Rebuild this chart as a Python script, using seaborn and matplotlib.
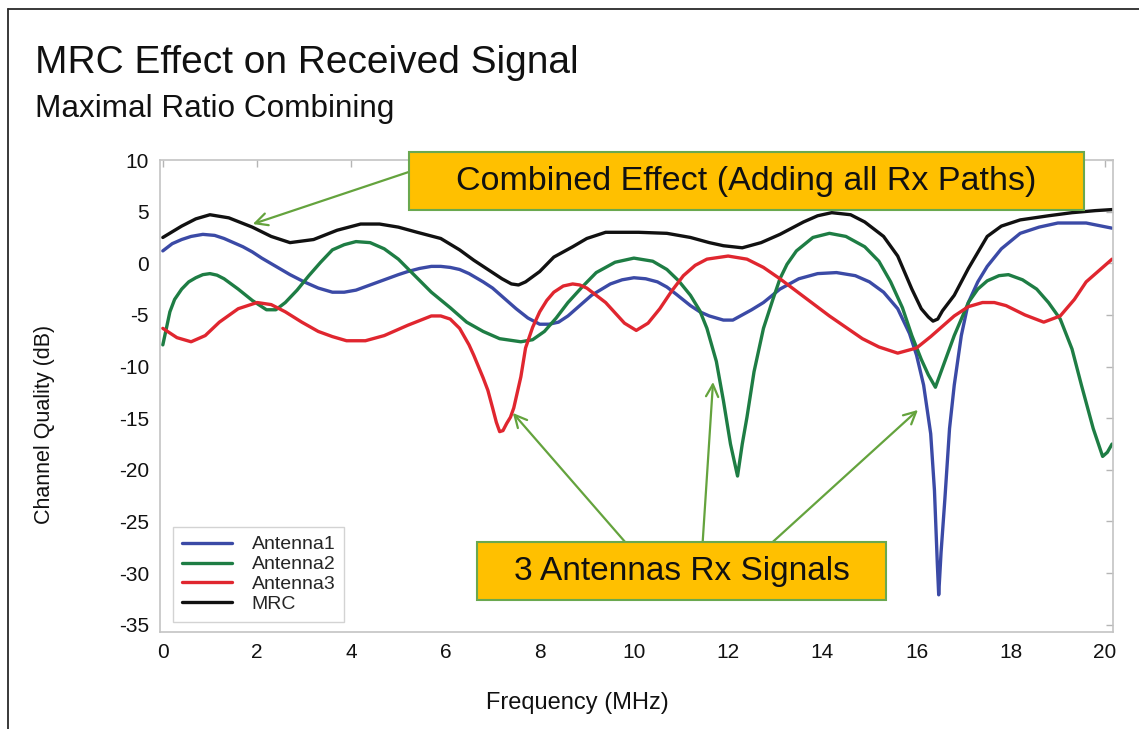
# MRC effect on received signal - channel quality vs frequency
import pandas as pd
import matplotlib.pyplot as plt
import seaborn as sns
from matplotlib.patches import Rectangle
from matplotlib.lines import Line2D

# -------------------
# DATA
# -------------------
series_names = ['Antenna1', 'Antenna2', 'Antenna3', 'MRC']
series_colors = ['#3b4aa6', '#1e7d44', '#e0262f', '#111111']

ant1_freq = [0, 0.2, 0.4, 0.6, 0.85, 1.1, 1.3, 1.5, 1.7, 1.9, 2.1, 2.4, 2.7, 3.0, 3.3, 3.6,
             3.85, 4.1, 4.4, 4.7, 5.0, 5.2, 5.45, 5.7, 5.9, 6.1, 6.3, 6.5, 6.8, 7.0, 7.2,
             7.5, 7.75, 8.0, 8.2, 8.4, 8.6, 8.8, 9.1, 9.5, 9.75, 10.0, 10.25, 10.5, 10.7,
             10.9, 11.2, 11.4, 11.6, 11.9, 12.1, 12.3, 12.5, 12.75, 13.1, 13.5, 13.9, 14.3,
             14.7, 15.0, 15.3, 15.6, 15.85, 16.0, 16.15, 16.3, 16.38, 16.44, 16.47, 16.52,
             16.6, 16.7, 16.8, 16.95, 17.1, 17.3, 17.5, 17.8, 18.2, 18.6, 19.0, 19.6, 20.15]
ant1_db = [1.2, 1.9, 2.3, 2.6, 2.8, 2.7, 2.4, 2.0, 1.6, 1.1, 0.5, -0.3, -1.1, -1.8, -2.4, -2.8,
           -2.8, -2.6, -2.1, -1.6, -1.1, -0.8, -0.5, -0.3, -0.3, -0.4, -0.6, -1.0, -1.8, -2.4, -3.2,
           -4.4, -5.3, -5.9, -5.9, -5.7, -5.1, -4.3, -3.1, -2.0, -1.6, -1.4, -1.5, -1.8, -2.3,
           -3.0, -4.1, -4.7, -5.1, -5.5, -5.5, -5.0, -4.5, -3.8, -2.5, -1.5, -1.0, -0.9,
           -1.2, -1.8, -2.8, -4.4, -6.8, -8.9, -11.8, -16.5, -22.0, -29.0, -32.1, -28.0,
           -22.9, -16.0, -11.8, -7.0, -3.8, -1.8, -0.3, 1.4, 2.9, 3.5, 3.9, 3.9, 3.4]

ant2_freq = [0, 0.08, 0.15, 0.25, 0.4, 0.55, 0.7, 0.85, 1.0, 1.15, 1.3, 1.6, 1.9, 2.2, 2.4,
             2.6, 2.85, 3.1, 3.35, 3.6, 3.85, 4.1, 4.4, 4.7, 5.0, 5.35, 5.7, 6.1, 6.45, 6.8,
             7.15, 7.6, 7.85, 8.1, 8.35, 8.6, 8.9, 9.2, 9.6, 10.0, 10.4, 10.7, 10.95, 11.2,
             11.4, 11.55, 11.75, 11.9, 12.05, 12.2, 12.3, 12.4, 12.55, 12.75, 12.95, 13.1,
             13.25, 13.45, 13.8, 14.15, 14.5, 14.9, 15.2, 15.45, 15.7, 15.9, 16.1, 16.25,
             16.4, 16.6, 16.8, 17.1, 17.3, 17.5, 17.75, 17.95, 18.25, 18.55, 18.8, 19.05,
             19.3, 19.5, 19.75, 19.95, 20.05, 20.15]
ant2_db = [-7.9, -6.2, -4.7, -3.5, -2.5, -1.8, -1.4, -1.1, -1.0, -1.15, -1.5, -2.5, -3.6, -4.5, -4.5,
           -3.8, -2.6, -1.2, 0.1, 1.3, 1.8, 2.1, 2.0, 1.4, 0.4, -1.2, -2.8, -4.3, -5.7, -6.6,
           -7.3, -7.6, -7.4, -6.6, -5.3, -3.8, -2.3, -0.9, 0.1, 0.5, 0.2, -0.6, -1.7, -3.1,
           -4.6, -6.3, -9.5, -13.3, -17.5, -20.6, -17.5, -14.9, -10.5, -6.3, -3.5, -1.5,
           -0.1, 1.2, 2.5, 2.9, 2.6, 1.6, 0.2, -1.8, -4.3, -7.0, -9.3, -10.8,
           -12.0, -9.5, -7.0, -3.8, -2.5, -1.7, -1.2, -1.1, -1.6, -2.5, -3.8, -5.4,
           -8.3, -11.8, -16.0, -18.7, -18.3, -17.5]

ant3_freq = [0, 0.3, 0.6, 0.9, 1.2, 1.6, 2.0, 2.3, 2.6, 2.95, 3.3, 3.6, 3.9, 4.3, 4.7, 5.2,
             5.7, 5.9, 6.1, 6.3, 6.5, 6.6, 6.7, 6.8, 6.9, 7.0, 7.08, 7.15, 7.22, 7.3, 7.38,
             7.45, 7.52, 7.6, 7.7, 7.85, 8.0, 8.15, 8.3, 8.5, 8.7, 8.85, 9.0, 9.4, 9.8,
             10.05, 10.3, 10.55, 10.8, 11.05, 11.3, 11.55, 12.0, 12.4, 12.75, 13.1, 13.45,
             14.15, 14.85, 15.2, 15.6, 16.0, 16.3, 16.8, 17.1, 17.4, 17.65, 17.9, 18.3, 18.7,
             19.05, 19.35, 19.6, 19.9, 20.15]
ant3_db = [-6.3, -7.2, -7.6, -7.0, -5.7, -4.4, -3.8, -4.0, -4.7, -5.7, -6.6, -7.1, -7.5, -7.5, -7.0, -6.0,
           -5.1, -5.1, -5.4, -6.3, -7.9, -8.9, -10.0, -11.1, -12.3, -14.0, -15.4, -16.3, -16.2, -15.5, -14.9,
           -14.0, -12.6, -11.0, -8.2, -6.2, -4.7, -3.6, -2.8, -2.2, -2.0, -2.1, -2.4, -3.8, -5.8,
           -6.5, -5.8, -4.4, -2.7, -1.2, -0.2, 0.4, 0.7, 0.4, -0.4, -1.5, -2.7,
           -5.1, -7.3, -8.1, -8.7, -8.2, -7.1, -5.1, -4.2, -3.8, -3.8, -4.1, -5.0, -5.7,
           -5.1, -3.5, -1.8, -0.6, 0.4]

mrc_freq = [0, 0.4, 0.7, 1.0, 1.4, 1.9, 2.3, 2.7, 3.2, 3.7, 4.2, 4.6, 5.0, 5.4, 5.9, 6.3, 6.6,
            6.9, 7.2, 7.4, 7.55, 7.7, 8.0, 8.3, 8.7, 9.0, 9.4, 10.1, 10.7, 11.2, 11.6, 11.9,
            12.3, 12.7, 13.1, 13.6, 13.9, 14.2, 14.6, 14.9, 15.3, 15.6, 15.9, 16.1, 16.25,
            16.35, 16.45, 16.55, 16.8, 17.1, 17.5, 17.8, 18.2, 18.8, 19.3, 19.8, 20.15]
mrc_db = [2.5, 3.6, 4.3, 4.7, 4.4, 3.5, 2.6, 2.0, 2.3, 3.2, 3.8, 3.8, 3.5, 3.0, 2.4, 1.3, 0.3,
          -0.6, -1.5, -2.0, -2.1, -1.8, -0.8, 0.6, 1.6, 2.4, 3.0, 3.0, 2.9, 2.5, 2.0, 1.7,
          1.5, 2.0, 2.8, 4.0, 4.6, 4.9, 4.7, 4.0, 2.6, 0.7, -2.5, -4.4, -5.2,
          -5.6, -5.4, -4.6, -3.1, -0.5, 2.6, 3.6, 4.2, 4.6, 4.9, 5.1, 5.2]

# long-form table for seaborn
frames = []
for name, f, d in zip(series_names,
                      [ant1_freq, ant2_freq, ant3_freq, mrc_freq],
                      [ant1_db, ant2_db, ant3_db, mrc_db]):
    frames.append(pd.DataFrame({'Frequency': f, 'Quality': d, 'Series': name}))
df = pd.concat(frames, ignore_index=True)

# -------------------
# STYLE
# -------------------
sns.set_theme(style='white')
plt.rcParams['font.family'] = ['Liberation Sans', 'DejaVu Sans']
plt.rcParams['axes.unicode_minus'] = False

W, H = 1139, 729
fig = plt.figure(figsize=(W / 100, H / 100), dpi=100)
ax = fig.add_axes([160 / W, 1 - 632 / H, (1113 - 160) / W, (632 - 160) / H])

sns.lineplot(data=df, x='Frequency', y='Quality', hue='Series', hue_order=series_names,
             palette=series_colors, estimator=None, sort=False, lw=2.4, ax=ax)

ax.set_xlim(-0.06, 20.17)
ax.set_ylim(-35.7, 10)
ax.set_xticks(range(0, 21, 2))
ax.set_yticks(range(-35, 11, 5))
ax.tick_params(direction='in', length=5, width=1, color='#b5b5b5', labelsize=15,
               labelcolor='#111111', top=True, right=True, pad=8)
for sp in ax.spines.values():
    sp.set_color('#c4c4c4')
    sp.set_linewidth(1.2)

ax.set_xlabel('Frequency (MHz)', fontsize=17, color='#111111')
ax.xaxis.set_label_coords(0.4376, -0.127)
ax.set_ylabel('Channel Quality (dB)', fontsize=15.5, color='#111111')
ax.yaxis.set_label_coords(-0.11, 0.44)

handles, labels = ax.get_legend_handles_labels()
leg = ax.legend(handles, labels, loc='lower left', bbox_to_anchor=(0.0136, 0.0212),
                borderaxespad=0, fontsize=14, frameon=True, fancybox=False,
                edgecolor='#c8c8c8', handlelength=2.6, handletextpad=1.0,
                labelspacing=0.12, borderpad=0.45)
leg.get_frame().set_linewidth(1.0)

# -------------------
# CALLOUT BOXES AND ARROWS
# -------------------
box_fill = '#ffc000'
box_edge = '#6aa84f'
arrow_color = '#64a33d'

ax.add_patch(Rectangle((5.22, 5.15), 19.55 - 5.22, 10.77 - 5.15, facecolor=box_fill,
                       edgecolor=box_edge, lw=1.5, clip_on=False, zorder=5))
ax.text(12.39, 7.96, 'Combined Effect (Adding all Rx Paths)', ha='center', va='center',
        fontsize=24.5, color='#111111', zorder=6)

ax.add_patch(Rectangle((6.67, -32.6), 15.35 - 6.67, 5.63, facecolor=box_fill,
                       edgecolor=box_edge, lw=1.5, clip_on=False, zorder=5))
ax.text(11.01, -29.8, '3 Antennas Rx Signals', ha='center', va='center',
        fontsize=24, color='#111111', zorder=6)

arrows = [((5.22, 8.84), (1.91, 3.8)),
          ((9.81, -26.97), (7.43, -14.49)),
          ((11.46, -26.97), (11.68, -11.49)),
          ((12.95, -26.97), (16.03, -14.2))]
for tail, tip in arrows:
    ax.annotate('', xy=tip, xytext=tail,
                arrowprops=dict(arrowstyle='->', color=arrow_color, lw=1.6,
                                mutation_scale=22, shrinkA=0, shrinkB=0),
                annotation_clip=False, zorder=4)

# -------------------
# TITLES AND PAGE BORDER
# -------------------
fig.text(35 / W, 1 - 73 / H, 'MRC Effect on Received Signal', fontsize=28,
         va='baseline', ha='left', color='#111111')
fig.text(35 / W, 1 - 117 / H, 'Maximal Ratio Combining', fontsize=22.7,
         va='baseline', ha='left', color='#111111')

fig.add_artist(Line2D([8 / W, 8 / W], [0, 1 - 9 / H], color='#2a2a2a', lw=1.3))
fig.add_artist(Line2D([8 / W, 1], [1 - 9 / H, 1 - 9 / H], color='#2a2a2a', lw=1.3))

fig.savefig('out.png', dpi=100)
